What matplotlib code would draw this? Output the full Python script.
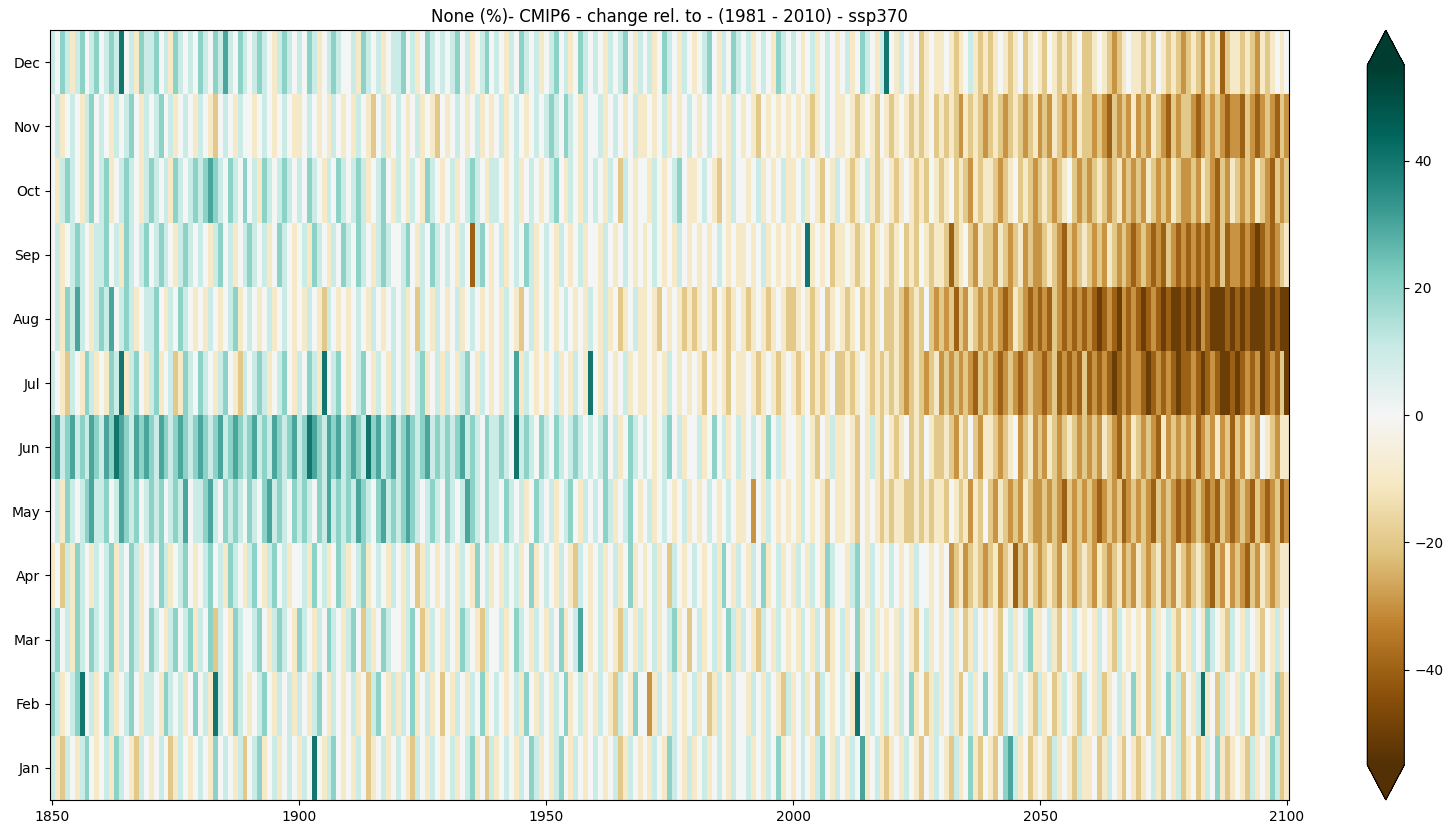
import matplotlib

matplotlib.use("Agg")
import matplotlib.pyplot as plt
import numpy as np

# Monthly change (%) rel. to 1981-2010, one char per year 1850..2100
# code: A=-50, B=-40, C=-30, D=-20, E=-10, F=0, G=10, H=20, I=30, J=40
MONTHS = ["Jan", "Feb", "Mar", "Apr", "May", "Jun",
          "Jul", "Aug", "Sep", "Oct", "Nov", "Dec"]
YEARS = np.arange(1850, 2101)

ROW_JAN = """GEDGFEGHFE FGEHGFEDGF EFGFDEGFEF GFEHFGFEGD FGHEFGEFGF EGFJFEGHFE FEGFDEFGEF
GFEDGFEGFE FGEFGHEFDG EFGFEGFHGE FEGHFEGFEF GFEFGDEGFE FEGFEHGFEG EFGEFGFEGF FGEFEGFHEF
EFGFEGHFEG FEGFIEFGED EFEGFEDFEG FEDGEFHEDF EDFHIGEFDE FEDGEFEDGE EFDEGFEDFE DEFGEDFEGD
EFDEGFHEDE FEDGEFEHGD E"""
ROW_FEB = """HGEFGHJFGE FHGEFGHFEG GFEHGFGEFH FGEJGFEHGF EFGHFEGFGE GFEGHFEGFE FGEFDGHFEG
EGFHEFGEFD FEGFEGFHEF GFEFGEHFEG FEGFHEFGEF EGFEDGFEHF FCEGFEGFEF GEFDEGFEGF FEGFEGFEDG
EFGEFDGFEF GFEJFEGFEG FEGFHEFDEG EFGEDFGEFH FEDGFEGFED GEFDEGFEDG FEGDEFGEFH EFDGEFHEGD
FEGJEFDGEF EGFDEGFEHD E"""
ROW_MAR = """GHFGEHGFHG FGHEGFHGEF HGFEGHFGHE GFHDGFEHGF FGHFEGHGFE HGFEGFHGFE GHFDGEFHGF
FEGHFDEGFE GFEHGFEDGF FGEFHGFEGF EGFHEFGIFE FGEFEDGFEG EFGEFGHEFD FGEFGEFHGE GFEDGFEGFE
FEGFEGFDEF GEFHEFGEFE FEGFEDFGEF EFGEFDEGFE FEDFGEFGHE EFGEDFEGFE FEGFEDGFEF EFDGEFGEDF
EGFEHGFEDG FEGFEDFEGE F"""
ROW_APR = """EFDGEHGFEG FGHEGFHGEF GFHGEFGHFE FGHFGEHGFE GHFEGHFGEF FGEHFGEFHG EFGHEFGFEG
FEGFDEGFEF GFEGFEHFGE FEGFGEFHEF GFEGFEDGFE FGEFGEFHEF EFGEFDGFEF GFEFGEHFEG FEGFHEFGEF
EGFEGFEHGF FEGHFEGFEF GFEFEGFFEF EFCDECDEDC DECDEBDCED CDEDCEDCDE DCEDCDECDC EDCDECDCED
CDEDCBDCEC DCBDCEDCDE E"""
ROW_MAY = """FGEHGFGHIG GHFGIHGHFG HGHFGHGIFG GHIGFHGHGF HGFHIGHGFH GHGFHGIGHG HGIHGFHIGH
GHIHGFGHGF HGFGIHGFHG GFHGFGEFHG FGEFGHFEGF GFHGEFGHFE FGEFGFEFGE FEFGFEFGFE EFCFEGFEFE
FEGFEFEDFE EFEDFEFEDE DEEDDEDEDE EDFEDECEDF DCEDCDCEDC CDCDCBDCDC DCBCDCDBCD CDCBDCDCBC
BCDCBCBDCB CDCBDCBCDB C"""
ROW_JUN = """HIGHIGHGIH GIHJIHGIHI HGIHGHIHGH IHGHIGHIHG HIGHGIHGHI GHJIHGIHIG HIHGJHIGHI
GHIHGHIGHG HGHIGHGFHG GHGFJGHGFH GFHGFGHGFG FGHFGEFHGF GFEFGHFGEF FGEFHFGEFG EFGFEHFGEF
FEGFEDFEGE EFEDFEGEDF EDEFDEDFED DEDCEDFDCE EDCDEFCDEC DCEDCDEDCD CDCEDCBDCE DCDCBECDCD
CDBCDCECDB DCEDCFEDCE E"""
ROW_JUL = """GFEDGFEHGE FEHGJEGHFE GHEFGDEHGF HGFEGHFEDG FGHGEFGHFE GFHGEJFGHF EFGHFEGFEG
FGEFGHEFGE GFEGHFEGFE FEGFIEGFEF EFGEFEGFEJ FEGFEFGEFE EFEFEGFEFE FEDFEFEDFE EFEDEFEDEF
EDEFDEDEFD DEDEFEDEDE DEDCDEDCDE CDCDCDCBDC DCBCDCBCDC CBCDBCBCBD BCBCBABCBC CBABCBCBAB
BCBABCBAAB ABCBCABCBD A"""
ROW_AUG = """FGEHGIGFEG HGIFGHGEFG GHFEGFHGFE FEGFEFGHEF GFEFGEFGFE FEGFEDGFEF EFGFEGFEFG
FGEFDGFEGF EFGEFGFEFE FEGFEDFGEF GFEFGFEFEG FEGEFDEFGE EFEDFEFEDE DEFEDFEDEF EDEFEDEFED
DEFEDEFDEF EDEFDEDEFD DEDCDEDFDC DCDBDCEDCD CDCBCEDCBC BCBDCBCBCB CBABCBACBC BABCBABAAB
ABACBAAABA BABAAABABA A"""
ROW_SEP = """FGEFGHGFEG GHFGEHGFGH FGHGFEGHGF GFEGHFGEFG HGFGEFHGFE FGEHGFEGFH GFHGFEGHGF
FGHFEGFHGF GFEGFBGHFE FGEFGFHGEF GFEGFEFGEF FEGFEFGFEF EFGFEFEGFE FEFEFGFEFE EFEFGEFEFE
FEFJEFEFDE EFEDEFDEFE DEFDEDFEDE EDBDEFDCED DCEDCDECDC CDEDCBDCDE DCDCEDCDCB CDCBCBDCBC
BCBCBCBDBC CBCBABCBCD E"""
ROW_OCT = """FEGHGFEGHF GHEFGHGFEG HGFGEHGFGH GHIHGFHGFH FGEHGFGHGF GFHGFEGFHG FGHGEFGHFE
GFEGFEHGFE FGEFGHGFEG GFEFGEFGFE FGHFEGFEGF GFEGFDGFEF FEGFEFGHFE EFGFEDFEGF FEFGEFEFGE
EFGEFEDFEG FEDEFGEDEF EDEFEDEDFE DEFDEDCEDE EDCDEFDEDC DEDCDEFDCD CDEDCDECDC DCEDCDCEDC
CDCEDCBDCE DCDCEDCBDC D"""
ROW_NOV = """FGEFGFEGHF GFEGFGHFEG FGHFGEFGFE GFEDFGFEGF FEFGFEFGFE EFGFEFEGFE FEGFEDFGEF
GFEFGEFEDF EFGFEFGEFE FGEFGFEFGF GHGFHGFEGF FGEFGFEFGE EFEFGEFEFG FEFGFEFEGF EFEDFEFEFE
FEFEDEFGFE EFEDEFEDFE DEFEDEDEFD EDEDCEDEDC DEDCDEDCDE CDCEDCDCED DCDCBDCDCE CDCEDCBDCD
DCBCDCDCBC CBDCBCDCBD C"""
ROW_DEC = """GFHGEGHFGH FGHGJFGEHG GHFGEHGFGF HGFHGIGFHG FGHGFEGHGF GFHGEFGHGF FGEHGFGEFG
GHFGEFHGFG FGHFGEFGHF GFEGFHGFGE FGHFGEFHGF GFEGFGHFEG FGEFHGFEGF EFGHFEGFHG FGEFGFEHGF
GFEFGEFGFE FGEFHGFEGJ FEGFEFDEFE EFEDEFGEDE DEFEDEFDEF EDFEDEDEFD DEFEDCDEFE EDEDFEDEDC
DEDCEDEBDE EDEDCEDEFE F"""

ROWS = [ROW_JAN, ROW_FEB, ROW_MAR, ROW_APR, ROW_MAY, ROW_JUN,
        ROW_JUL, ROW_AUG, ROW_SEP, ROW_OCT, ROW_NOV, ROW_DEC]


def decode(row):
    s = "".join(row.split())
    s = (s + "F" * len(YEARS))[: len(YEARS)]
    return [(ord(c) - ord("F")) * 10.0 for c in s]


data = np.array([decode(r) for r in ROWS])

fig = plt.figure(figsize=(14.53, 8.34), dpi=100)
ax = fig.add_axes([0.0344, 0.0408, 0.853, 0.923])
cax = fig.add_axes([0.941, 0.0408, 0.0255, 0.923])

x_edges = np.append(YEARS - 0.5, YEARS[-1] + 0.5)
y_edges = np.arange(len(MONTHS) + 1) - 0.5
mesh = ax.pcolormesh(x_edges, y_edges, data, cmap="BrBG", vmin=-55, vmax=55)
ax.set_yticks(range(len(MONTHS)))
ax.set_yticklabels(MONTHS)
ax.set_xticks([1850, 1900, 1950, 2000, 2050, 2100])
ax.set_title("None (%)- CMIP6 - change rel. to - (1981 - 2010) - ssp370")

fig.colorbar(mesh, cax=cax, extend="both", ticks=[-40, -20, 0, 20, 40])

fig.savefig("out.png", dpi=100)
